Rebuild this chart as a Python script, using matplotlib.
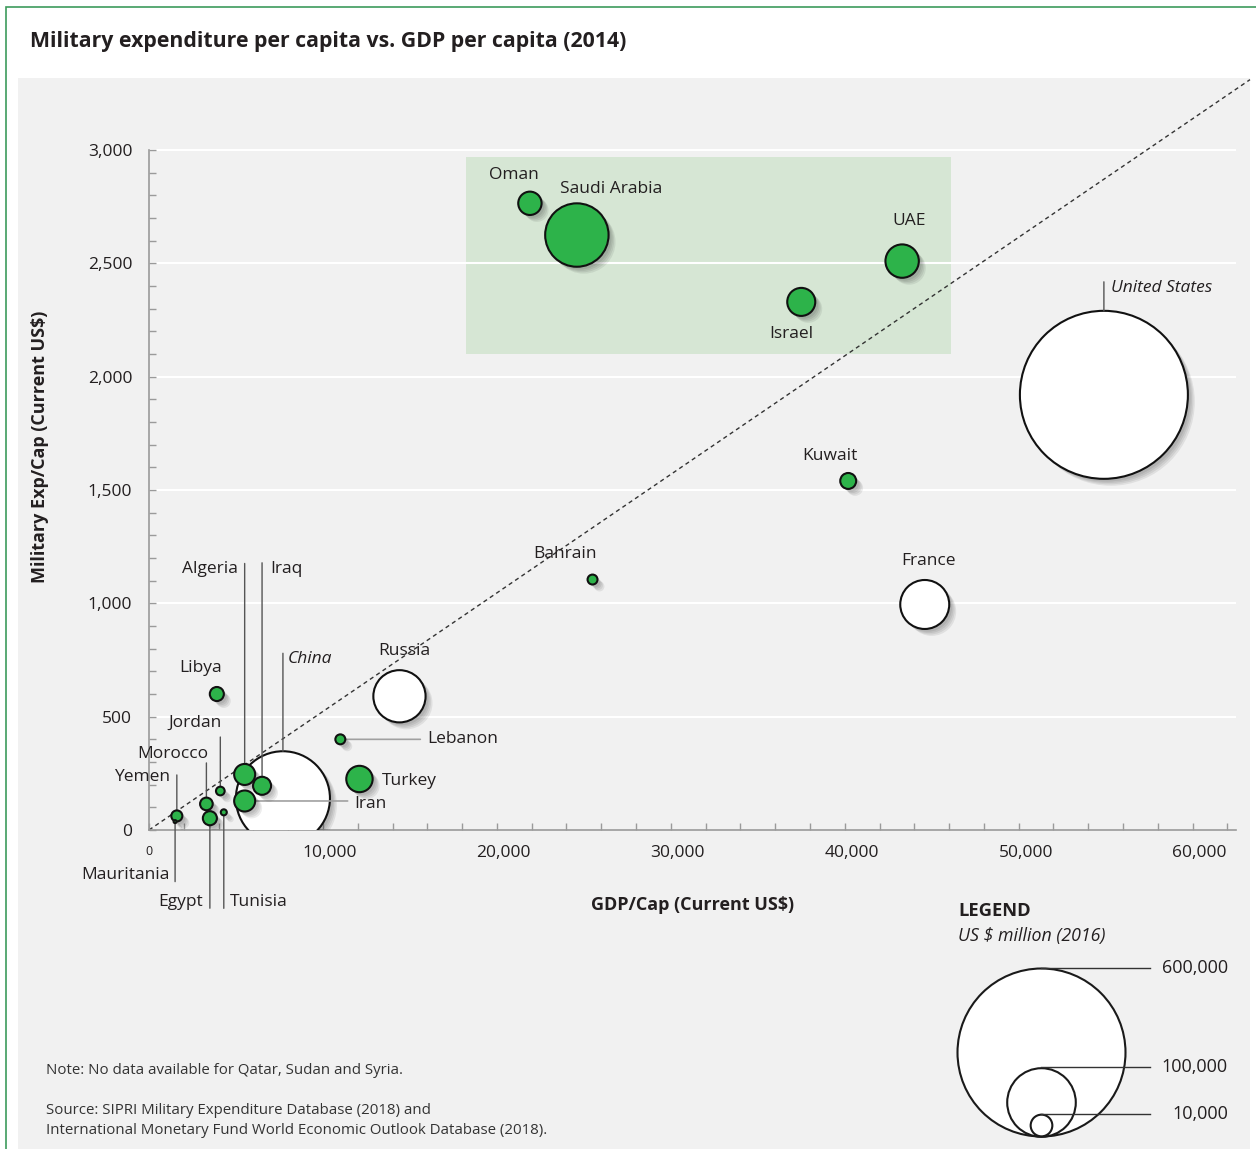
import numpy as np
import matplotlib.pyplot as plt
import matplotlib.patheffects as pe
import matplotlib.transforms as mtransforms
from matplotlib.patches import Rectangle
from matplotlib.ticker import FuncFormatter

plt.rcParams['font.family'] = ['Open Sans', 'DejaVu Sans']

# data
countries = ['Oman', 'Saudi Arabia', 'UAE', 'Israel', 'United States', 'Kuwait',
             'Bahrain', 'France', 'Russia', 'Libya', 'Lebanon', 'Turkey', 'China',
             'Algeria', 'Iraq', 'Iran', 'Jordan', 'Morocco', 'Egypt', 'Tunisia',
             'Yemen', 'Mauritania']
gdp_cap = [21900, 24600, 43300, 37500, 54900, 40200, 25500, 44600, 14400, 3900,
           11000, 12100, 7700, 5500, 6500, 5500, 4100, 3300, 3500, 4300, 1600, 1500]
milex_cap = [2765, 2625, 2510, 2330, 1920, 1540, 1105, 995, 590, 600,
             400, 225, 140, 245, 195, 128, 172, 115, 52, 78, 62, 37]
milex_total = [11600, 85500, 23700, 16700, 600000, 5400, 2100, 51000, 58000, 4200,
               2100, 14800, 188000, 9400, 6900, 9400, 1600, 3400, 4200, 770, 2600, 190]
outside_region = ['United States', 'France', 'Russia', 'China']
italic_labels = ['United States', 'China']

legend_values = [600000, 100000, 10000]
x_ticks = [0, 10000, 20000, 30000, 40000, 50000, 60000]
y_ticks = [0, 500, 1000, 1500, 2000, 2500, 3000]
gulf_box = (18200, 46100, 2100, 2970)   # x0, x1, y0, y1 of the shaded group
ref_slope = 0.0523                       # dashed reference line

# label placement: text offset (px), alignment, leader end offset (px) or None
label_pos = {
    'Oman': ((-16, 28), 'center', None),
    'Saudi Arabia': ((34, 46), 'center', None),
    'UAE': ((7, 40), 'center', None),
    'Israel': ((-10, -32), 'center', None),
    'United States': ((7, 107), 'left', (0, 113)),
    'Kuwait': ((-18, 25), 'center', None),
    'Bahrain': ((-28, 26), 'center', None),
    'France': ((4, 43), 'center', None),
    'Russia': ((5, 45), 'center', None),
    'Libya': ((-16, 26), 'center', None),
    'Lebanon': ((87, 0), 'left', (80, 0)),
    'Turkey': ((22, -2), 'left', None),
    'China': ((5, 139), 'left', (0, 145)),
    'Algeria': ((-7, 205), 'right', (0, 211)),
    'Iraq': ((8, 217), 'left', (0, 223)),
    'Iran': ((110, -3), 'left', (103, 0)),
    'Jordan': ((-25, 68), 'center', (0, 54)),
    'Morocco': ((-34, 50), 'center', (0, 41)),
    'Yemen': ((-7, 39), 'right', (0, 41)),
    'Mauritania': ((-5, -53), 'right', (0, -60)),
    'Egypt': ((-7, -84), 'right', (0, -90)),
    'Tunisia': ((6, -90), 'left', (0, -96)),
}

W, H, DPI = 1256, 1149, 100
K = 84 / np.sqrt(600000)   # bubble radius in px per sqrt(US$ million)
GREEN = '#2db34a'
TXT = '#231f20'
FS = 12.5


def radius_px(v):
    return K * np.sqrt(v)


def marker_size(v):
    return (2 * radius_px(v) * 72 / DPI) ** 2


shadow = [pe.SimplePatchShadow(offset=(o, -o), shadow_rgbFace='#000000', alpha=0.07)
          for o in (2, 3, 4, 5)] + [pe.Normal()]

fig = plt.figure(figsize=(W / DPI, H / DPI), dpi=DPI)

# background layer in pixel coordinates
bg = fig.add_axes([0, 0, 1, 1], zorder=0)
bg.set_xlim(0, W)
bg.set_ylim(H, 0)
bg.axis('off')
bg.add_patch(Rectangle((6, 7), W + 20, H + 20, facecolor='white',
                       edgecolor='#3d9b5c', lw=1.2))
bg.add_patch(Rectangle((18, 78), 1232, H, facecolor='#f1f1f1', edgecolor='none'))
bg.text(30, 41, 'Military expenditure per capita vs. GDP per capita (2014)',
        fontsize=15.3, fontweight='bold', color=TXT, va='center', ha='left')
bg.text(693, 905, 'GDP/Cap (Current US$)', fontsize=13, fontweight='bold',
        color=TXT, ha='center', va='center')
bg.text(40, 447, 'Military Exp/Cap (Current US$)', fontsize=13, fontweight='bold',
        color=TXT, ha='center', va='center', rotation=90)
bg.text(46, 1070, 'Note: No data available for Qatar, Sudan and Syria.',
        fontsize=10.8, color='#333333', va='center')
bg.text(46, 1110, 'Source: SIPRI Military Expenditure Database (2018) and',
        fontsize=10.8, color='#333333', va='center')
bg.text(46, 1131, 'International Monetary Fund World Economic Outlook Database (2018).',
        fontsize=10.8, color='#333333', va='center')

# size legend
bg.text(958, 911, 'LEGEND', fontsize=13.2, fontweight='bold', color=TXT, va='center')
bg.text(958, 936, 'US $ million (2016)', fontsize=12.8, style='italic', color=TXT,
        va='center')
leg_cx, leg_bottom = 1041, 1136
for v in legend_values:
    r = radius_px(v)
    bg.scatter([leg_cx], [leg_bottom - r], s=marker_size(v), facecolor='white',
               edgecolor='#1a1a1a', linewidth=1.5, zorder=2)
for v in legend_values:
    r = radius_px(v)
    bg.plot([leg_cx, 1150], [leg_bottom - 2 * r] * 2, color='#333333', lw=1, zorder=3)
    bg.text(1228, leg_bottom - 2 * r, f'{v:,}', fontsize=13, color=TXT,
            ha='right', va='center')

# main chart
ax = fig.add_axes([149 / W, (H - 830) / H, 1101 / W, 750 / H], zorder=1)
ax.set_facecolor('none')
ax.set_xlim(0, 63300)
ax.set_ylim(0, 3309)

ax.add_patch(Rectangle((gulf_box[0], gulf_box[2]), gulf_box[1] - gulf_box[0],
                       gulf_box[3] - gulf_box[2], facecolor='#d6e6d4',
                       edgecolor='none', zorder=0.2))
ax.hlines(y_ticks[1:], 0, 62500, color='white', lw=1.5, zorder=0.5)
xs = np.array([0, 63300])
ax.plot(xs, ref_slope * xs, color='#333333', lw=1, ls=(0, (3, 2.5)), zorder=2,
        clip_on=False)

for side in ['top', 'right']:
    ax.spines[side].set_visible(False)
for side in ['left', 'bottom']:
    ax.spines[side].set_color('#9a9a9a')
    ax.spines[side].set_linewidth(1.2)
ax.spines['left'].set_bounds(0, 3000)
ax.spines['bottom'].set_bounds(0, 62500)

ax.set_xticks(x_ticks)
ax.set_xticks(range(0, 62001, 2000), minor=True)
ax.set_yticks(y_ticks)
ax.set_yticks(range(0, 3001, 100), minor=True)
fmt = FuncFormatter(lambda v, p: f'{int(v):,}')
ax.xaxis.set_major_formatter(fmt)
ax.yaxis.set_major_formatter(fmt)
ax.tick_params(which='both', direction='in', length=5, width=1, color='#9a9a9a')
ax.tick_params(axis='x', which='major', labelsize=FS, labelcolor=TXT, pad=11)
ax.tick_params(axis='y', which='major', labelsize=FS, labelcolor=TXT, pad=12)

shift = mtransforms.ScaledTranslation(7 / DPI, 0, fig.dpi_scale_trans)
for t, val in zip(ax.xaxis.get_major_ticks(), x_ticks):
    if val == 0:
        t.label1.set_fontsize(9)
    else:
        t.label1.set_transform(t.label1.get_transform() + shift)

# bubbles
colors = ['white' if c in outside_region else GREEN for c in countries]
order = [0 if c in outside_region else 1 for c in countries]
for grp, z in ((0, 3), (1, 5)):
    idx = [i for i in range(len(countries)) if order[i] == grp]
    sc = ax.scatter([gdp_cap[i] for i in idx], [milex_cap[i] for i in idx],
                    s=[marker_size(milex_total[i]) for i in idx],
                    facecolor=[colors[i] for i in idx], edgecolor='#111111',
                    linewidth=1.5, zorder=z)
    sc.set_path_effects(shadow)

# labels and leader lines
for i, c in enumerate(countries):
    (dx, dy), ha, lead = label_pos[c]
    ax.annotate(c, (gdp_cap[i], milex_cap[i]), xytext=(dx, dy),
                textcoords='offset pixels', ha=ha, va='center', fontsize=FS,
                color=TXT, style='italic' if c in italic_labels else 'normal',
                zorder=6)
    if lead is not None:
        horiz = lead[1] == 0
        ax.annotate('', (gdp_cap[i], milex_cap[i]), xytext=lead,
                    textcoords='offset pixels',
                    arrowprops=dict(arrowstyle='-', lw=1.2 if horiz else 1,
                                    color='#a0a0a0' if horiz else '#555555',
                                    shrinkA=0,
                                    shrinkB=radius_px(milex_total[i]) * 72 / DPI),
                    zorder=4)

fig.savefig('out.png', dpi=DPI)
